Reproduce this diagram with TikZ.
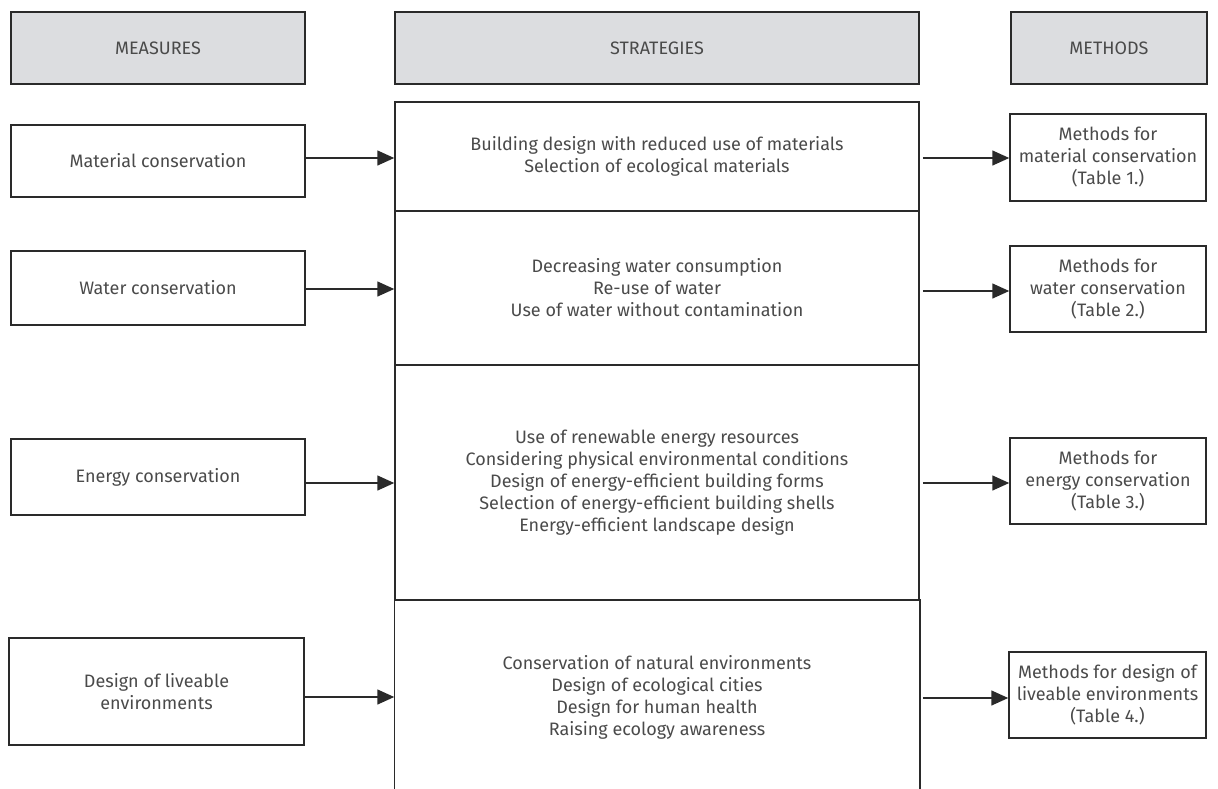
\documentclass[tikz,border=0pt]{standalone}
\usepackage{fontspec}
\setmainfont{Fira Sans}
\usetikzlibrary{arrows.meta}
\definecolor{txt}{HTML}{4A4A4A}
\definecolor{ln}{HTML}{2A2A2A}
\definecolor{hdr}{HTML}{DCDDE0}
\tikzset{
  box/.style={draw=ln, line width=1.5pt, inner sep=0pt, align=center, text=txt,
    font=\fontsize{18}{22}\selectfont},
  hbox/.style={box, fill=hdr},
  arr/.style={draw=ln, line width=1.5pt, -{Triangle[length=17pt,width=15pt]}},
}
\begin{document}
\begin{tikzpicture}[x=1pt,y=-1pt]
\useasboundingbox (0,0) rectangle (1218,788);
\clip (0,0) rectangle (1218,788);
% headers
\node[hbox, minimum width=294pt, minimum height=72pt] (h1) at (158,48) {MEASURES};
\node[hbox, minimum width=524pt, minimum height=72pt] (h2) at (657,48) {STRATEGIES};
\node[hbox, minimum width=196pt, minimum height=72pt] (h3) at (1109,48) {METHODS};
% measures
\node[box, minimum width=294pt, minimum height=72pt] (m1) at (158,161) {Material conservation};
\node[box, minimum width=294pt, minimum height=74pt] (m2) at (158,288) {Water conservation};
\node[box, minimum width=294pt, minimum height=76pt] (m3) at (158,477) {Energy conservation};
\node[box, minimum width=295pt, minimum height=107pt] (m4) at (156.5,691.5) {Design of liveable\\environments};
% strategies
\node[box, minimum width=524pt, minimum height=109pt] (s1) at (657,156.5) {Building design with reduced use of materials\\Selection of ecological materials};
\node[box, minimum width=524pt, minimum height=154pt] (s2) at (657,288) {Decreasing water consumption\\Re-use of water\\Use of water without contamination};
\node[box, minimum width=524pt, minimum height=235pt] (s3) at (657,482.5) {Use of renewable energy resources\\Considering physical environmental conditions\\Design of energy-efficient building forms\\Selection of energy-efficient building shells\\Energy-efficient landscape design};
\node[box, draw=none, minimum width=524pt, minimum height=194pt] (s4) at (657,697) {Conservation of natural environments\\Design of ecological cities\\Design for human health\\Raising ecology awareness};
\draw[ln, line width=1.5pt] (s4.south west) -- (s4.north west) -- (s4.north east) -- (s4.south east);
% methods
\node[box, minimum width=196pt, minimum height=87pt] (r1) at (1108,157.5) {Methods for\\material conservation\\(Table 1.)};
\node[box, minimum width=196pt, minimum height=86pt] (r2) at (1108,289) {Methods for\\water conservation\\(Table 2.)};
\node[box, minimum width=196pt, minimum height=86pt] (r3) at (1108,481) {Methods for\\energy conservation\\(Table 3.)};
\node[box, minimum width=197pt, minimum height=86pt] (r4) at (1107.5,695) {Methods for design of\\liveable environments\\(Table 4.)};
% arrow levels
\coordinate (y1) at (0,158);
\coordinate (y2) at (0,289);
\coordinate (y3) at (0,483);
\coordinate (y4) at (0,697);
\coordinate (z1) at (0,158);
\coordinate (z2) at (0,291);
\coordinate (z3) at (0,483);
\coordinate (z4) at (0,698);
% arrows measures -> strategies
\draw[arr] (m1.east |- y1) -- (s1.west |- y1);
\draw[arr] (m2.east |- y2) -- (s2.west |- y2);
\draw[arr] (m3.east |- y3) -- (s3.west |- y3);
\draw[arr] (m4.east |- y4) -- (s4.west |- y4);
% arrows strategies -> methods
\draw[arr] ([xshift=3pt]s1.east |- z1) -- (r1.west |- z1);
\draw[arr] ([xshift=3pt]s2.east |- z2) -- (r2.west |- z2);
\draw[arr] ([xshift=3pt]s3.east |- z3) -- (r3.west |- z3);
\draw[arr] ([xshift=3pt]s4.east |- z4) -- (r4.west |- z4);
\end{tikzpicture}
\end{document}
